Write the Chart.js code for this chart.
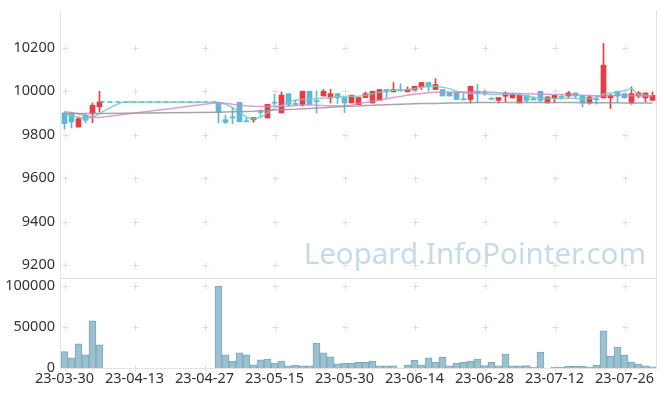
<!DOCTYPE html>
<html>
<head>
<meta charset="utf-8">
<script src="https://cdn.jsdelivr.net/npm/chart.js@4"></script>
<style>
  html, body { margin: 0; padding: 0; background: #fff; }
  #wrap { width: 665px; height: 396px; }
</style>
</head>
<body>
<div id="wrap"><canvas id="c"></canvas></div>
<script>
// 거래일
const dates = [
  "23-03-30","23-03-31","23-04-03","23-04-04","23-04-05","23-04-06","23-04-07","23-04-10","23-04-11","23-04-12",
  "23-04-13","23-04-14","23-04-17","23-04-18","23-04-19","23-04-20","23-04-21","23-04-24","23-04-25","23-04-26",
  "23-04-27","23-04-28","23-05-02","23-05-03","23-05-04","23-05-08","23-05-09","23-05-10","23-05-11","23-05-12",
  "23-05-15","23-05-16","23-05-17","23-05-18","23-05-19","23-05-22","23-05-23","23-05-24","23-05-25","23-05-26",
  "23-05-30","23-05-31","23-06-01","23-06-02","23-06-05","23-06-07","23-06-08","23-06-09","23-06-12","23-06-13",
  "23-06-14","23-06-15","23-06-16","23-06-19","23-06-20","23-06-21","23-06-22","23-06-23","23-06-26","23-06-27",
  "23-06-28","23-06-29","23-06-30","23-07-03","23-07-04","23-07-05","23-07-06","23-07-07","23-07-10","23-07-11",
  "23-07-12","23-07-13","23-07-14","23-07-17","23-07-18","23-07-19","23-07-20","23-07-21","23-07-24","23-07-25",
  "23-07-26","23-07-27","23-07-28","23-07-31","23-08-01"
];

// 시가 / 고가 / 저가 / 종가 (거래정지 구간은 null)
const opens = [
  9900, 9897, 9835, 9889, 9897, 9928,
  null, null, null, null, null, null, null, null, null, null, null, null, null, null, null, null,
  9949, 9869, 9882, 9949, 9863, 9868, 9906, 9877, 9949, 9900, 9989, 9943, 9939, 10000,
  9957, 9978, 9969, 9989, 9971, 9946, 9938, 9971, 9946, 9958, 10008, 9997, 10005, 9997,
  10005, 10020, 10040, 10008, 10008, 9994, 9994, 9963, 9962, 10000, 9992, 9966, 9958, 9977,
  9969, 9946, 9981, 9966, 10000, 9946, 9969, 9977, 9978, 9992, 9978, 9946, 9965, 9969,
  9969, 10000, 9989, 9946, 9978, 9969, 9958
];
const highs = [
  9905, 9900, 9882, 9897, 9946, 10000,
  null, null, null, null, null, null, null, null, null, null, null, null, null, null, null, null,
  9949, 9890, 9925, 9949, 9879, 9879, 9915, 9940, 9986, 9997, 9989, 9962, 10000, 10000,
  10001, 10008, 10008, 9989, 9971, 9982, 9971, 9997, 10000, 10008, 10008, 10040, 10035, 10020,
  10023, 10040, 10040, 10058, 10008, 9994, 9994, 9989, 10023, 10032, 10005, 9971, 9971, 9997,
  9992, 9989, 9981, 9974, 10000, 9974, 9981, 9986, 10000, 9992, 9978, 9981, 9981, 10220,
  9986, 10000, 9989, 10020, 10000, 9992, 9997
];
const lows = [
  9825, 9831, 9835, 9854, 9855, 9905,
  null, null, null, null, null, null, null, null, null, null, null, null, null, null, null, null,
  9854, 9850, 9851, 9859, 9859, 9857, 9882, 9877, 9936, 9900, 9931, 9936, 9931, 9939,
  9900, 9978, 9946, 9943, 9902, 9946, 9938, 9971, 9946, 9958, 9971, 9997, 10000, 9997,
  10005, 10008, 10000, 10008, 9978, 9978, 9962, 9960, 9946, 9946, 9981, 9962, 9946, 9951,
  9969, 9946, 9948, 9960, 9948, 9946, 9946, 9962, 9974, 9966, 9928, 9940, 9940, 9969,
  9920, 9951, 9969, 9940, 9969, 9951, 9958
];
const closes = [
  9851, 9858, 9874, 9866, 9935, 9951,
  null, null, null, null, null, null, null, null, null, null, null, null, null, null, null, null,
  9902, 9857, 9877, 9859, 9859, 9879, 9902, 9940, 9945, 9982, 9939, 9939, 10000, 9939,
  9952, 10000, 9989, 9969, 9946, 9982, 9971, 9989, 10000, 10008, 9997, 10008, 10002, 10009,
  10023, 10040, 10020, 10031, 9978, 9978, 9962, 9960, 10023, 9989, 9989, 9963, 9971, 9992,
  9989, 9981, 9958, 9960, 9958, 9974, 9981, 9972, 9992, 9978, 9946, 9974, 9960, 10120,
  9981, 9978, 9969, 9989, 9992, 9992, 9981
];

// 거래량
const volumes = [
  20000, 12300, 29500, 16000, 57800, 28300,
  0, 0, 0, 0, 0, 0, 0, 0, 0, 0, 0, 0, 0, 0, 0, 0,
  100000, 16000, 8500, 18500, 16000, 4000, 10000, 11000, 6000, 8500, 2500, 3500, 2500, 2500,
  30000, 18500, 13500, 5000, 6000, 6000, 7000, 7000, 8500, 2500, 2500, 2500, 0, 3500,
  9500, 3500, 12500, 7000, 13000, 2500, 6000, 7000, 8500, 11000, 3000, 7000, 2500, 17000,
  2500, 2500, 3000, 1200, 19500, 0, 1000, 1000, 2000, 2000, 2000, 1000, 3500, 45500,
  14500, 25600, 15800, 7200, 4800, 2500, 1500
];

// 이동평균선
const ma5 = [
  9893, 9888, 9880, 9876, 9880, 9897, 9915, 9932, 9947, 9951,
  null, null, null, null, null, null, null, null, null, null, null, null,
  9948, 9940, 9925, 9905, 9880, 9872, 9880, 9900, 9922, 9935, 9950, 9958, 9962, 9963,
  9965, 9968, 9971, 9976, 9977, 9977, 9977, 9982, 9988, 9995, 10001, 10004, 10006, 10008,
  10011, 10018, 10023, 10023, 10018, 10012, 10000, 9993, 9989, 9989, 9988, 9986, 9986, 9986,
  9986, 9985, 9978, 9972, 9969, 9966, 9965, 9967, 9969, 9967, 9965, 9966, 9969, 9988,
  9992, 9996, 10004, 10012, 9985, 9982, 9980
];
const ma20 = [
  9905, 9902, 9895, 9888, 9880, 9879,
  null, null, null, null, null, null, null, null, null, null, null, null, null, null, null, null,
  9948, 9945, 9940, 9936, 9933, 9931, 9930, 9930, 9931, 9931, 9932, 9934, 9936, 9937,
  9936, 9934, 9933, 9932, 9933, 9936, 9943, 9948, 9954, 9960, 9965, 9971, 9976, 9982,
  9987, 9990, 9993, 9995, 9996, 9997, 9997, 9997, 9997, 9997, 9996, 9995, 9993, 9991,
  9990, 9989, 9988, 9987, 9986, 9986, 9985, 9985, 9984, 9983, 9982, 9980, 9978, 9979,
  9980, 9980, 9980, 9979, 9979, 9978, 9978
];
const ma60 = [
  9898, 9898, 9898, 9898, 9898, 9898,
  null, null, null, null, null, null, null, null, null, null, null, null, null, null, null, null,
  9903, 9904, 9905, 9906, 9907, 9908, 9910, 9911, 9913, 9914, 9916, 9917, 9919, 9921,
  9923, 9924, 9926, 9928, 9930, 9931, 9932, 9934, 9935, 9937, 9938, 9939, 9940, 9941,
  9942, 9943, 9944, 9944, 9945, 9946, 9946, 9947, 9947, 9948, 9948, 9948, 9948, 9948,
  9948, 9948, 9948, 9948, 9948, 9948, 9948, 9948, 9948, 9948, 9947, 9947, 9947, 9947,
  9947, 9947, 9946, 9946, 9946, 9946, 9946
];
// 거래정지 기간 가격선 (점선)
const haltLine = [{ x: "23-04-06", y: 9950 }, { x: "23-05-02", y: 9950 }];

const yTicks = [9200, 9400, 9600, 9800, 10000, 10200];
const volTicks = [0, 50000, 100000];

const UP = "#ec3a42";
const DOWN = "#5cb8d4";
const candleColor = opens.map((o, i) => (o == null ? null : closes[i] >= o ? UP : DOWN));
const fontDef = { family: "'Noto Sans', sans-serif", size: 14.5 };

// 십자 격자, 테두리, 워터마크
const decorPlugin = {
  id: "decor",
  beforeDatasetsDraw(chart) {
    const { ctx, chartArea, scales } = chart;
    const { x, y, yv } = scales;
    ctx.save();

    ctx.font = "29.5px 'Noto Sans', sans-serif";
    ctx.fillStyle = "rgba(160,194,216,0.6)";
    ctx.textAlign = "right";
    ctx.textBaseline = "alphabetic";
    ctx.fillText("Leopard.InfoPointer.com", 646, 264);

    ctx.strokeStyle = "#dddddd";
    ctx.lineWidth = 1;
    for (let i = 0; i < dates.length; i += 10) {
      const px = Math.round(x.getPixelForValue(i)) + 0.5;
      const rows = yTicks.map((v) => y.getPixelForValue(v)).concat(volTicks.map((v) => yv.getPixelForValue(v)));
      rows.forEach((py) => {
        py = Math.round(py) + 0.5;
        ctx.beginPath();
        ctx.moveTo(px - 3, py); ctx.lineTo(px + 3, py);
        ctx.moveTo(px, py - 3); ctx.lineTo(px, py + 3);
        ctx.stroke();
      });
    }

    ctx.strokeStyle = "#e3e3e3";
    const l = Math.round(chartArea.left) - 0.5, r = Math.round(chartArea.right) + 0.5;
    const t = Math.round(chartArea.top), b = Math.round(chartArea.bottom) + 0.5;
    const mid = Math.round(y.bottom) + 0.5;
    ctx.beginPath();
    ctx.moveTo(l, t); ctx.lineTo(l, b);
    ctx.moveTo(r, t); ctx.lineTo(r, b);
    ctx.moveTo(l, mid); ctx.lineTo(r, mid);
    ctx.moveTo(l, b); ctx.lineTo(r, b);
    ctx.stroke();
    ctx.restore();
  },
};

const fixedTicks = (list) => (s) => { s.ticks = list.map((v) => ({ value: v })); };
const fitY = (s) => { s.width = 61; s.paddingTop = 0; s.paddingBottom = 0; };

new Chart(document.getElementById("c"), {
  type: "bar",
  data: {
    labels: dates,
    datasets: [
      {
        type: "line", label: "MA60", data: ma60, yAxisID: "y",
        borderColor: "rgba(150,150,150,0.85)", borderWidth: 1.5, pointRadius: 0, spanGaps: true, order: 1,
      },
      {
        type: "line", label: "MA20", data: ma20, yAxisID: "y",
        borderColor: "rgba(208,135,205,0.8)", borderWidth: 1.5, pointRadius: 0, spanGaps: true, order: 1,
      },
      {
        type: "line", label: "MA5", data: ma5, yAxisID: "y",
        borderColor: "rgba(120,205,195,0.85)", borderWidth: 1.5, pointRadius: 0, spanGaps: true, order: 1,
      },
      {
        type: "line", label: "halt", data: haltLine, yAxisID: "y",
        borderColor: "#4fb3c9", borderWidth: 1.5, borderDash: [5, 3], pointRadius: 0, order: 1,
      },
      {
        label: "wick", yAxisID: "y",
        data: lows.map((lo, i) => (lo == null ? null : [lo, highs[i]])),
        backgroundColor: candleColor, barThickness: 1, grouped: false, order: 3,
      },
      {
        label: "body", yAxisID: "y",
        data: opens.map((o, i) => (o == null ? null : [o, closes[i]])),
        backgroundColor: candleColor, barThickness: 5, grouped: false, minBarLength: 1, order: 2,
      },
      {
        label: "volume", yAxisID: "yv", data: volumes,
        backgroundColor: "#9bc1d1", borderColor: "#7ba7bb", borderWidth: 1,
        barPercentage: 1, categoryPercentage: 1, grouped: false, order: 4,
      },
    ],
  },
  options: {
    responsive: true,
    maintainAspectRatio: false,
    animation: false,
    layout: { padding: { top: 10, right: 9, left: 0, bottom: 0 } },
    plugins: { legend: { display: false }, tooltip: { enabled: false } },
    scales: {
      x: {
        type: "category", offset: true,
        grid: { display: false, drawTicks: false }, border: { display: false },
        ticks: {
          autoSkip: false, maxRotation: 0, minRotation: 0, padding: 2, color: "#333", font: fontDef,
          callback: (v, i) => (i % 10 === 0 ? dates[i] : ""),
        },
        afterFit: (s) => { s.height = 28; },
      },
      yv: {
        position: "left", stack: "panel", stackWeight: 90,
        min: 0, max: 110000,
        grid: { display: false, drawTicks: false }, border: { display: false },
        ticks: { padding: 6, color: "#333", font: fontDef, callback: (v) => String(v) },
        afterBuildTicks: fixedTicks(volTicks),
        afterFit: fitY,
      },
      y: {
        position: "left", stack: "panel", stackWeight: 268,
        min: 9140, max: 10374,
        grid: { display: false, drawTicks: false }, border: { display: false },
        ticks: { padding: 6, color: "#333", font: fontDef, callback: (v) => String(v) },
        afterBuildTicks: fixedTicks(yTicks),
        afterFit: fitY,
      },
    },
  },
  plugins: [decorPlugin],
});
</script>
</body>
</html>
